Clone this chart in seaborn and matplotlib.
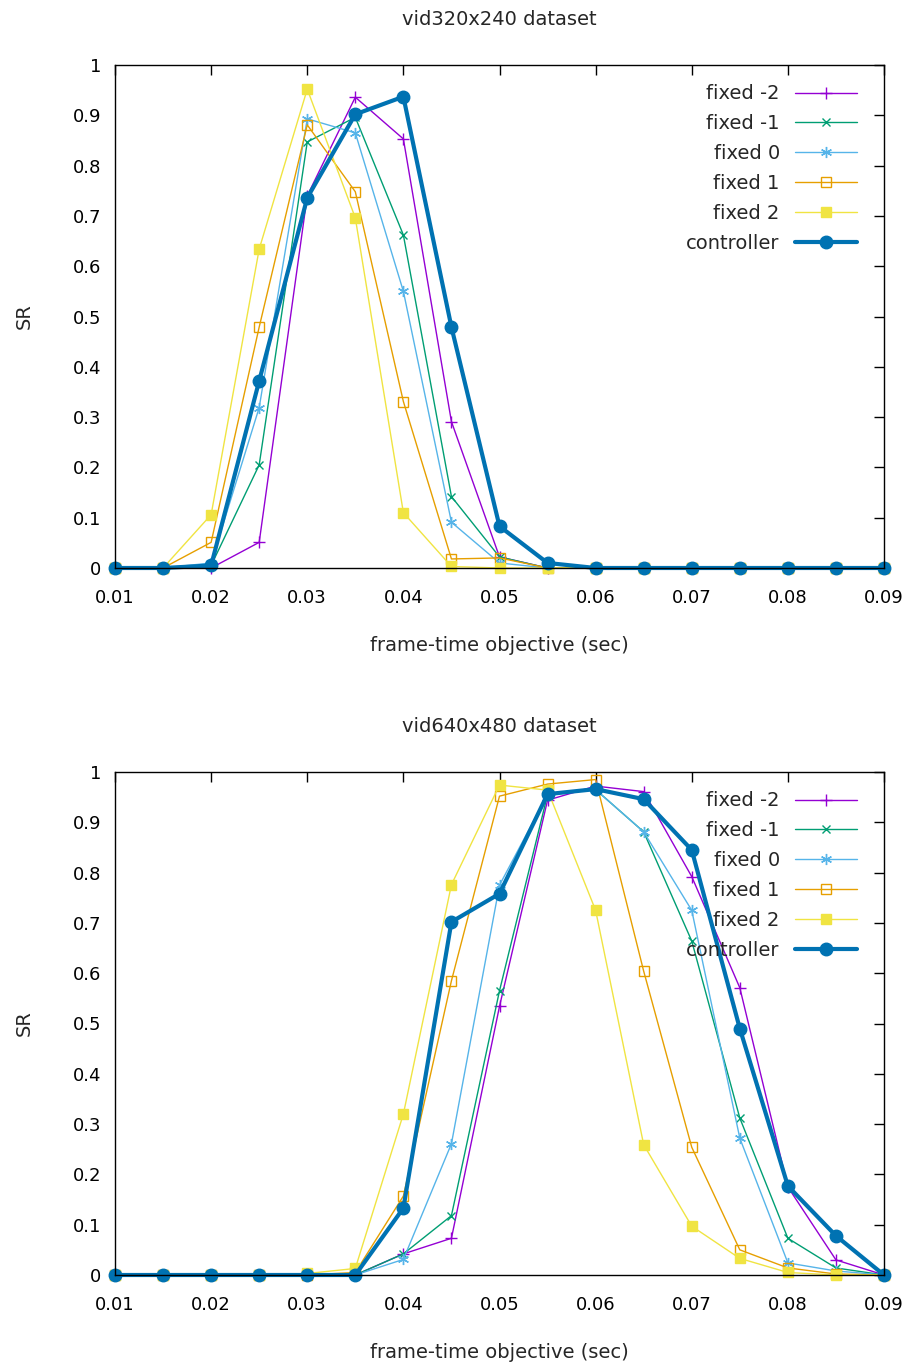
import numpy as np
import pandas as pd
import matplotlib
matplotlib.use("Agg")
import matplotlib.pyplot as plt
import seaborn as sns

x_vals = [0.01, 0.015, 0.02, 0.025, 0.03, 0.035, 0.04, 0.045, 0.05,
          0.055, 0.06, 0.065, 0.07, 0.075, 0.08, 0.085, 0.09]

series_names = ["fixed -2", "fixed -1", "fixed 0", "fixed 1", "fixed 2", "controller"]

top_fixed_m2 = [0, 0, 0, 0.051, 0.74, 0.936, 0.853, 0.291, 0.022, 0, 0, 0, 0, 0, 0, 0, 0]
top_fixed_m1 = [0, 0, 0.005, 0.205, 0.847, 0.896, 0.662, 0.142, 0.022, 0, 0, 0, 0, 0, 0, 0, 0]
top_fixed_0 = [0, 0, 0.01, 0.319, 0.893, 0.865, 0.55, 0.091, 0.01, 0, 0, 0, 0, 0, 0, 0, 0]
top_fixed_1 = [0, 0, 0.051, 0.479, 0.881, 0.748, 0.331, 0.018, 0.02, 0, 0, 0, 0, 0, 0, 0, 0]
top_fixed_2 = [0, 0, 0.106, 0.634, 0.952, 0.696, 0.110, 0.003, 0.0, 0, 0, 0, 0, 0, 0, 0, 0]
top_controller = [0, 0, 0.005, 0.372, 0.736, 0.902, 0.937, 0.479, 0.083, 0.01, 0, 0, 0, 0, 0, 0, 0]

bot_fixed_m2 = [0, 0, 0, 0, 0, 0, 0.042, 0.073, 0.534, 0.944, 0.972, 0.961, 0.792, 0.571, 0.175, 0.03, 0]
bot_fixed_m1 = [0, 0, 0, 0, 0, 0, 0.042, 0.118, 0.565, 0.955, 0.965, 0.881, 0.664, 0.312, 0.073, 0.014, 0]
bot_fixed_0 = [0, 0, 0, 0, 0, 0, 0.031, 0.261, 0.775, 0.955, 0.965, 0.881, 0.725, 0.272, 0.024, 0.008, 0]
bot_fixed_1 = [0, 0, 0, 0, 0, 0.005, 0.157, 0.585, 0.952, 0.976, 0.985, 0.604, 0.254, 0.050, 0.014, 0.002, 0]
bot_fixed_2 = [0, 0, 0, 0, 0.003, 0.013, 0.32, 0.776, 0.974, 0.964, 0.725, 0.259, 0.097, 0.033, 0.005, 0, 0]
bot_controller = [0, 0, 0, 0, 0, 0, 0.133, 0.702, 0.758, 0.956, 0.966, 0.946, 0.845, 0.49, 0.177, 0.078, 0]

titles = ["vid320x240 dataset", "vid640x480 dataset"]
x_label = "frame-time objective (sec)"
y_label = "SR"
x_ticks = [0.01, 0.02, 0.03, 0.04, 0.05, 0.06, 0.07, 0.08, 0.09]
x_tick_labels = ["0.01", "0.02", "0.03", "0.04", "0.05", "0.06", "0.07", "0.08", "0.09"]
y_ticks = [0, 0.1, 0.2, 0.3, 0.4, 0.5, 0.6, 0.7, 0.8, 0.9, 1]
y_tick_labels = ["0", "0.1", "0.2", "0.3", "0.4", "0.5", "0.6", "0.7", "0.8", "0.9", "1"]

panels = [
    [top_fixed_m2, top_fixed_m1, top_fixed_0, top_fixed_1, top_fixed_2, top_controller],
    [bot_fixed_m2, bot_fixed_m1, bot_fixed_0, bot_fixed_1, bot_fixed_2, bot_controller],
]

colors = ["#9400d3", "#009e73", "#56b4e9", "#e69f00", "#f0e442", "#0072b2"]
styles = [
    dict(marker="+", markersize=9, mew=1.0, lw=1.0),
    dict(marker="x", markersize=6, mew=1.0, lw=1.0),
    dict(marker=(6, 2, 0), markersize=8, mew=1.0, lw=1.0),
    dict(marker="s", markersize=7, mew=1.0, lw=1.0, mfc="none"),
    dict(marker="s", markersize=7, mew=1.0, lw=1.0),
    dict(marker="o", markersize=9, mew=1.0, lw=3.0),
]

sns.set_style("white")
plt.rcParams["font.family"] = ["DejaVu Sans"]

fig = plt.figure(figsize=(9.14, 13.67), dpi=100)
axes_pos = [
    [115 / 914, 1 - 568 / 1367, 769 / 914, 503 / 1367],
    [115 / 914, 1 - 1275 / 1367, 769 / 914, 503 / 1367],
]

for pi, (pos, data) in enumerate(zip(axes_pos, panels)):
    ax = fig.add_axes(pos)
    for name, vals, col, st in zip(series_names, data, colors, styles):
        df = pd.DataFrame({"x": x_vals, "y": vals})
        sns.lineplot(data=df, x="x", y="y", ax=ax, color=col, label=name,
                     marker=st["marker"], markersize=st["markersize"],
                     markeredgewidth=st["mew"], linewidth=st["lw"],
                     markerfacecolor=st.get("mfc", col), markeredgecolor=col,
                     clip_on=False)
    ax.set_xlim(0.01, 0.09)
    ax.set_ylim(0, 1)
    ax.set_xticks(x_ticks)
    ax.set_xticklabels(x_tick_labels)
    ax.set_yticks(y_ticks)
    ax.set_yticklabels(y_tick_labels)
    ax.tick_params(direction="in", length=7, width=1, top=True, right=True,
                   labelsize=13, colors="black")
    ax.tick_params(axis="x", pad=15)
    ax.tick_params(axis="y", pad=10)
    for s in ax.spines.values():
        s.set_color("black")
        s.set_linewidth(1.0)
        s.set_visible(True)
    ax.set_title(titles[pi], fontsize=14, pad=29)
    ax.set_xlabel(x_label, fontsize=14, labelpad=21)
    ax.set_ylabel(y_label, fontsize=14, labelpad=28)
    leg = ax.legend(loc="upper right", frameon=False, markerfirst=False,
                    fontsize=14, handlelength=3.2, labelspacing=0.56,
                    borderaxespad=0.0, handletextpad=0.77,
                    bbox_to_anchor=(0.975, 0.977))
    for t in leg.get_texts():
        t.set_ha("right")
    leg._legend_box.align = "right"

fig.savefig("out.png", dpi=100)
